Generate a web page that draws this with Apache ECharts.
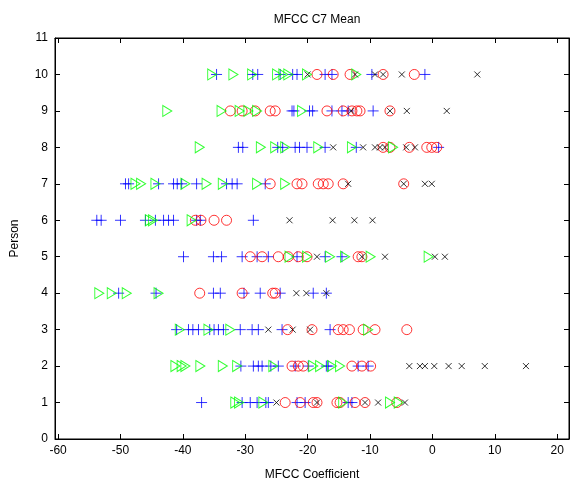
<!DOCTYPE html>
<html>
<head>
<meta charset="utf-8">
<title>MFCC C7 Mean</title>
<script src="https://cdn.jsdelivr.net/npm/echarts@6/dist/echarts.min.js"></script>
<style>
  html, body { margin: 0; padding: 0; background: #fff; }
  #chart { width: 570px; height: 486px; }
</style>
</head>
<body>
<div id="chart"></div>
<script>
// one row per person (1..10), values are MFCC coefficients
const persons = [1, 2, 3, 4, 5, 6, 7, 8, 9, 10]
const xTicks = [-60, -50, -40, -30, -20, -10, 0, 10, 20]

const bluePlus = [
  [-37.0, -30.5, -29.2, -28.1, -26.7, -26.3, -21.7, -20.4, -13.5, -12.9],
  [-30.7, -28.7, -27.9, -27.3, -25.9, -24.7, -22.0, -19.9, -17.0, -16.7, -11.9, -10.3],
  [-41.0, -39.1, -38.4, -37.5, -35.7, -35.0, -34.3, -33.5, -30.8, -28.9, -27.9, -24.1, -16.4],
  [-50.3, -44.3, -35.1, -34.0, -30.2, -27.6, -24.4, -19.1, -17.0],
  [-39.9, -35.1, -33.8, -30.5, -28.1, -26.3, -21.7, -17.2, -14.5],
  [-53.8, -53.1, -50.0, -46.0, -44.4, -43.1, -42.3, -41.5, -37.8, -37.2, -28.7],
  [-49.2, -48.7, -43.9, -41.5, -40.9, -40.2, -37.8, -33.0, -32.1, -31.3, -26.8],
  [-31.1, -30.4, -24.8, -24.0, -22.0, -21.3, -20.1, -17.2, -12.2, 1.0],
  [-22.5, -22.2, -19.7, -19.2, -16.1, -14.5, -13.5, -9.5],
  [-34.6, -28.8, -28.0, -24.4, -22.4, -21.7, -17.2, -16.1, -9.7, -1.2]
]
const redCircle = [
  [-23.6, -21.2, -19.1, -18.5, -15.3, -14.8, -12.4, -10.8, -5.7],
  [-22.5, -21.5, -20.7, -12.9, -11.3, -9.9],
  [-23.2, -19.3, -15.1, -14.3, -13.3, -11.1, -9.2, -4.1],
  [-37.3, -30.5, -25.6, -25.2],
  [-29.2, -27.3, -24.7, -23.1, -21.5, -20.1, -11.9, -11.3],
  [-38.0, -37.1, -35.0, -33.0],
  [-26.0, -21.7, -20.9, -18.3, -17.5, -16.7, -14.3, -4.6],
  [-7.9, -6.8, -3.7, -0.9, -0.1, 0.7],
  [-32.4, -30.5, -28.4, -26.0, -25.2, -16.9, -14.3, -12.9, -12.1, -11.6, -6.8],
  [-18.5, -15.9, -13.2, -7.9, -2.9]
]
const greenTriangle = [
  [-31.6, -31.0, -27.1, -14.3, -6.8, -5.4],
  [-41.2, -40.2, -39.6, -37.2, -33.6, -31.3, -25.5, -19.1, -18.0, -16.1, -14.8],
  [-40.5, -35.9, -32.4, -10.3],
  [-53.4, -51.4, -49.0, -43.9],
  [-22.9, -20.1, -16.4, -14.0, -9.9, -0.6],
  [-45.3, -44.8, -38.6],
  [-47.6, -46.7, -44.4, -39.6, -36.2, -33.6, -28.1, -23.6],
  [-37.3, -27.5, -25.2, -23.6, -18.3, -12.9, -6.3],
  [-42.5, -33.8, -30.9, -29.5, -28.1, -20.9],
  [-35.3, -31.9, -28.9, -24.9, -23.9, -23.1, -20.1, -12.2]
]
const blackCross = [
  [-25.0, -18.5, -10.8, -8.7, -4.4],
  [-3.7, -2.0, -1.2, 0.3, 2.6, 4.7, 8.4, 15.0],
  [-26.3, -22.4, -19.6],
  [-21.8, -20.2, -17.0],
  [-18.5, -11.3, -7.6, 0.4, 2.0],
  [-22.9, -16.0, -12.5, -9.6],
  [-13.5, -4.6, -1.2, -0.1],
  [-15.9, -11.1, -9.2, -8.4, -7.6, -4.2, -2.8],
  [-13.0, -6.8, -4.1, 2.3],
  [-20.0, -12.4, -9.2, -7.9, -4.9, 7.2]
]

// turn the per-person rows into [x, person] pairs
function toPoints (rows) {
  const pts = []
  rows.forEach((row, i) => {
    row.forEach(v => pts.push([v, persons[i]]))
  })
  return pts
}

const font = 'Liberation Sans, Arial, sans-serif'
const chart = echarts.init(document.getElementById('chart'), null, { renderer: 'canvas' })

const hollow = (color) => ({ color: 'rgba(0,0,0,0)', borderColor: color, borderWidth: 1 })
const axisLine = { onZero: false, lineStyle: { color: '#000' } }

chart.setOption({
  animation: false,
  backgroundColor: '#fff',
  title: {
    text: 'MFCC C7 Mean',
    left: 312,
    top: 9,
    textAlign: 'center',
    textStyle: { fontFamily: font, fontSize: 12, fontWeight: 'normal', color: '#000' }
  },
  grid: {
    left: 55,
    right: 1,
    top: 38,
    bottom: 45,
    show: true,
    borderColor: '#000',
    borderWidth: 1
  },
  xAxis: [
    {
      type: 'value',
      min: -60.5,
      max: 21.9,
      name: 'MFCC Coefficient',
      nameLocation: 'middle',
      nameGap: 30,
      nameTextStyle: { fontFamily: font, fontSize: 12, color: '#000' },
      axisLine: axisLine,
      axisTick: { inside: true, length: 5, customValues: xTicks, lineStyle: { color: '#000' } },
      axisLabel: { customValues: xTicks, fontFamily: font, fontSize: 12, color: '#000', margin: 6 },
      splitLine: { show: false }
    },
    {
      type: 'value',
      position: 'top',
      min: -60.5,
      max: 21.9,
      axisLine: axisLine,
      axisTick: { inside: true, length: 5, customValues: xTicks, lineStyle: { color: '#000' } },
      axisLabel: { show: false },
      splitLine: { show: false }
    }
  ],
  yAxis: [
    {
      type: 'value',
      min: 0,
      max: 11,
      interval: 1,
      name: 'Person',
      nameLocation: 'middle',
      nameGap: 34,
      nameTextStyle: { fontFamily: font, fontSize: 12, color: '#000' },
      axisLine: axisLine,
      axisTick: { inside: true, length: 5, lineStyle: { color: '#000' } },
      axisLabel: { fontFamily: font, fontSize: 12, color: '#000', margin: 7 },
      splitLine: { show: false }
    },
    {
      type: 'value',
      position: 'right',
      min: 0,
      max: 11,
      interval: 1,
      axisLine: axisLine,
      axisTick: { inside: true, length: 5, lineStyle: { color: '#000' } },
      axisLabel: { show: false },
      splitLine: { show: false }
    }
  ],
  series: [
    {
      type: 'scatter',
      data: toPoints(bluePlus),
      symbol: 'path://M0,5L10,5M5,0L5,10',
      symbolSize: 11,
      itemStyle: hollow('#0000ff')
    },
    {
      type: 'scatter',
      data: toPoints(redCircle),
      symbol: 'circle',
      symbolSize: 10,
      itemStyle: hollow('#ff0000')
    },
    {
      type: 'scatter',
      data: toPoints(greenTriangle),
      symbol: 'path://M0,0L9,5L0,10Z',
      symbolSize: [9, 11],
      itemStyle: hollow('#00ff00')
    },
    {
      type: 'scatter',
      data: toPoints(blackCross),
      symbol: 'path://M0,0L10,10M10,0L0,10',
      symbolSize: 6,
      itemStyle: hollow('#000000')
    }
  ]
})
</script>
</body>
</html>
